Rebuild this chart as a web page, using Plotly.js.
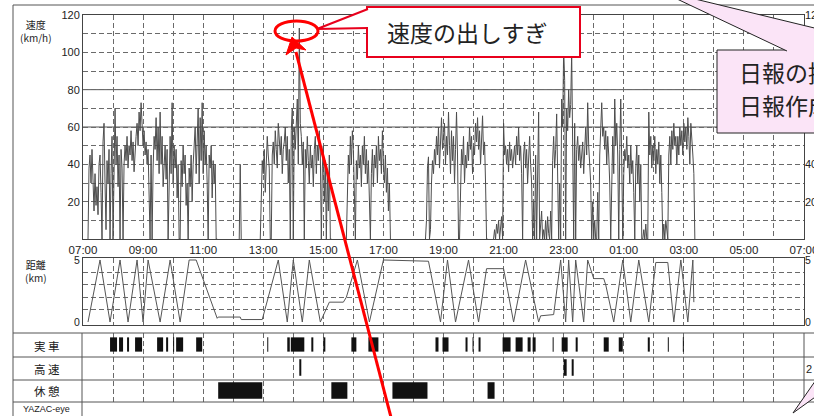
<!DOCTYPE html>
<html><head><meta charset="utf-8">
<script src="https://cdn.plot.ly/plotly-3.0.1.min.js"></script>
<style>html,body{margin:0;padding:0;background:#fff;}#chart{width:814px;height:416px;}</style>
</head><body><div id="chart"></div>
<script>
const W = 814, H = 416;

// ---- time axis (minutes after 07:00) ----
const hourLabels = ['07:00','09:00','11:00','13:00','15:00','17:00','19:00','21:00','23:00','01:00','03:00','05:00','07:00'];
const sampleStepMin = 2;

// ---- speed (km/h), sampled every 2 minutes, segment start minutes ----
const speedSegStart = [10, 312, 354, 526, 684, 820];
const speedSeg1 = [0,38,45,30,48,22,15,35,18,28,13,40,45,25,0,52,62,30,5,42,30,48,0,35,55,0,48,70,40,55,28,45,0,48,38,0,40,50,42,55,38,50,45,58,42,52,36,48,55,62,50,68,58,73,55,50,58,45,52,40,48,30,0,45,0,38,55,48,65,42,60,35,68,40,55,28,45,50,32,48,0,40,55,35,73,30,50,38,48,22,40,0,0,42,28,50,35,45,18,30,0,38,28,45,20,40,52,60,35,48,70,30,65,42,73,35,58,40,50,30,0,45,38,50,22,42,30,40,0,0];
const speedSeg2 = [0,40,0];
const speedSeg3 = [0,30,42,35,48,25,40,55,45,38,0,0,45,52,40,58,48,38,62,50,45,55,35,48,52,60,42,55,30,48,
  0,58,70,0,60,48,62,75,40,113,62,55,40,52,0,48,38,55,42,30,50,38,45,28,48,55,35,50,42,58,45,0,38,50,20,42,0,35,15,45,0,0];
const speedSeg4 = [0,30,45,35,55,40,58,48,30,0,42,32,50,38,45,28,50,40,55,35,48,30,42,22,0,35,48,28,45,38,50,30,55,42,48,35,58,40,30,45,25,38,15,30,0];
const speedSeg5 = [0,10,38,44,0,5,30,42,35,48,40,55,45,60,38,52,65,48,58,62,40,55,45,68,50,35,58,42,55,30,48,68,45,0,0,35,48,40,55,30,45,38,52,42,60,48,55,35,50,45,62,52,65,48,58,40,55,66,45,52,30,0,0];
const speedSeg6 = [0,5,0,8,3,10,0,6,12,0,
  62,45,50,40,48,36,52,42,48,38,45,50,40,55,45,60,42,50,35,0,45,52,38,48,30,42,55,40,30,0,
  20,0,45,0,30,68,0,8,15,0,5,0,10,0,12,3,0,15,0,42,55,38,48,67,40,0,30,0,
  75,60,102,85,0,70,58,80,65,72,100,60,0,62,0,48,55,42,50,38,45,52,35,48,60,45,73,50,40,30,0,20,0,10,0,0,25,0,45,62,
  73,55,60,48,58,40,55,45,30,0,40,55,35,75,50,62,45,0,48,75,40,0,35,48,42,55,38,45,30,50,35,42,25,
  0,38,50,30,45,20,40,0,0,5,0,8,0,0,68,45,55,38,50,42,55,35,48,40,52,30,45,25,0,8,0,10,3,0,
  45,55,40,58,48,62,50,55,40,55,45,60,50,58,45,62,52,60,48,65,55,40,62,50,45,35,0];
const speedThresholds = [60, 80];
const speedRightLabels = [20, 40, 120];   // the others are hidden behind the pink callout

// ---- distance (km) vertices ----
const distTime = [10,34,54,74,90,108,120,130,154,174,194,212,226,268,270,314,316,358,390,408,420,438,452,474,492,520,526,548,572,600,690,714,728,744,770,790,806,840,860,884,910,914,940,954,964,970,978,984,1000,1008,1020,1040,1044,1060,1078,1094,1110,1130,1144,1168,1180,1194,1208,1218,1220];
const distKm   = [0,5,0,5,0,5,0,5,0,5,0,5,5,0.3,0.4,0.4,0.2,0.2,5,0,5,0,5,0,1.6,1.6,2.0,5,0,5,4.9,0,5,0,5,0,4.3,4.3,0,5,0,0.5,0.6,5,0,5,0,5,0,5,3.5,3.5,3.0,0,5,0,5,0,4.8,4.8,0,5,0,5,1.6];

// ---- activity rows ----
const rowNames = ['実車','高速','休憩'];
const driveStart = [54,72,88,104,148,166,180,186,226,368,408,415,456,480,536,570,704,718,764,778,790,838,864,888,898,938,956,984,1040,1070,1128,1168,1198];
const driveEnd   = [68,80,92,118,160,170,182,200,238,370,413,442,460,484,546,590,710,730,768,780,794,854,878,894,904,940,968,988,1050,1078,1132,1170,1200];
const highwayStart = [432,960,976];
const highwayEnd   = [436,966,980];
const restStart = [270,496,618,808];
const restEnd   = [358,528,688,822];

// ---------------------------------------------------------------
const traces = [];
[speedSeg1,speedSeg2,speedSeg3,speedSeg4,speedSeg5,speedSeg6].forEach((vals,k)=>{
  traces.push({type:'scatter',mode:'lines',x:vals.map((_,i)=>speedSegStart[k]+i*sampleStepMin),y:vals,
    xaxis:'x',yaxis:'y',line:{color:'#4d4d4d',width:1},hoverinfo:'skip',showlegend:false});
});
traces.push({type:'scatter',mode:'lines',x:distTime,y:distKm,xaxis:'x2',yaxis:'y2',
  line:{color:'#555',width:1},hoverinfo:'skip',showlegend:false});
function barTrace(name, s, e, w){
  return {type:'bar',orientation:'h',y:s.map(()=>name),base:s,x:s.map((v,i)=>e[i]-v),width:w,
    xaxis:'x3',yaxis:'y3',marker:{color:'#111',line:{width:0}},hoverinfo:'skip',showlegend:false};
}
traces.push(barTrace(rowNames[0],driveStart,driveEnd,0.62));
traces.push(barTrace(rowNames[1],highwayStart,highwayEnd,0.72));
traces.push(barTrace(rowNames[2],restStart,restEnd,0.72));
// placeholders for overlay axes
[['x','y4'],['x2','y5'],['x2','y6']].forEach(p=>traces.push({type:'scatter',mode:'lines',x:[null],y:[null],xaxis:p[0],yaxis:p[1],hoverinfo:'skip',showlegend:false}));

const hourTicks = []; for(let m=0;m<=1440;m+=60) hourTicks.push(m);
const hourText = hourTicks.map((m,i)=> i%2===0 ? hourLabels[i/2] : '');
const gridDash = '5px,3px';
const gridColor = '#6a6a6a';
const numFont = {family:'Liberation Sans, Arial, sans-serif', size:11, color:'#222'};
const xDomain = [83/W, 804/W];
const baseX = {domain:xDomain, range:[0,1440], tickvals:hourTicks, ticktext:hourText, showgrid:true, gridcolor:gridColor,
  gridwidth:1, griddash:gridDash, showline:true, linecolor:'#444', linewidth:1, mirror:true, ticks:'', zeroline:false, fixedrange:true};

const speedTicks = []; for(let v=10; v<=120; v+=10) speedTicks.push(v);

const px = v => v/W, py = v => 1 - v/H;
function path(pts, close){ return pts.map((p,i)=>(i?'L':'M')+px(p[0]).toFixed(5)+','+py(p[1]).toFixed(5)).join(' ')+(close?' Z':''); }
function pline(x0,y0,x1,y1,color,w){ return {type:'line',xref:'paper',yref:'paper',x0:px(x0),y0:py(y0),x1:px(x1),y1:py(y1),line:{color:color,width:w}}; }

const shapes = [];
// frame & table lines
shapes.push(pline(13,5,814,5,'#555',1));
shapes.push(pline(13,5,13,416,'#555',1));
[333,357,380,402].forEach(y=>shapes.push(pline(13,y,814,y,'#555',1)));
shapes.push(pline(82,333,82,416,'#555',1));
shapes.push(pline(804,333,804,402,'#555',1));
// solid reference lines on the speed chart
speedThresholds.forEach(v=>shapes.push({type:'line',xref:'x',yref:'y',x0:0,x1:1440,y0:v,y1:v,line:{color:'#555',width:1},layer:'below'}));
// red callout
shapes.push({type:'rect',xref:'paper',yref:'paper',x0:px(367),x1:px(580),y0:py(57),y1:py(7),fillcolor:'#fff',line:{color:'#e8001c',width:2}});
shapes.push({type:'path',xref:'paper',yref:'paper',path:path([[368,9],[317,29],[368,28]],false),fillcolor:'#fff',line:{color:'#e8001c',width:2}});
shapes.push({type:'circle',xref:'paper',yref:'paper',x0:px(275),x1:px(318),y0:py(41),y1:py(21),line:{color:'#f00',width:3}});
shapes.push(pline(393,425,296,52,'#f00',3));
shapes.push({type:'path',xref:'paper',yref:'paper',path:path([[292,37],[306,50],[296,48],[286,55]],true),fillcolor:'#f00',line:{color:'#f00',width:1}});
// pink callout
shapes.push({type:'rect',xref:'paper',yref:'paper',x0:px(717),x1:px(840),y0:py(133),y1:py(50),fillcolor:'#fbe4f7',line:{color:'#222',width:1}});
shapes.push({type:'path',xref:'paper',yref:'paper',path:path([[787,51],[658,-10],[909,51]],false),fillcolor:'#fbe4f7',line:{color:'#222',width:1}});
shapes.push({type:'path',xref:'paper',yref:'paper',path:path([[818,377],[793,413],[818,395]],false),fillcolor:'#fbe4f7',line:{color:'#222',width:1}});

const annotations = [];
function txt(t,x,y,size,opt){ annotations.push(Object.assign({text:t,xref:'paper',yref:'paper',x:px(x),y:py(y),showarrow:false,
  xanchor:'center',yanchor:'middle',font:{family:'Noto Sans CJK JP, sans-serif',size:size,color:'#222'}},opt||{})); }
txt('速度<br>(km/h)',36,31,10);
txt('距離<br>(km)',36,271,10);
txt('実 車',47,346,11.5);
txt('高 速',47,369,11.5);
txt('休 憩',47,391,11.5);
txt('YAZAC-eye',46,409,9,{font:{family:'Liberation Sans, sans-serif',size:9,color:'#222'}});
txt('2',809,369,11,{font:numFont});
txt('速度の出しすぎ',467,32,23);
txt('日報の提出',737,72,23,{xanchor:'left'});
txt('日報作成',737,105,23,{xanchor:'left'});

const layout = {
  width:W, height:H, margin:{l:0,r:0,t:0,b:0,autoexpand:false}, paper_bgcolor:'#fff', plot_bgcolor:'rgba(0,0,0,0)',
  showlegend:false, barmode:'overlay',
  xaxis: Object.assign({}, baseX, {anchor:'y', ticklabeloverflow:'allow', tickfont:{family:'Liberation Sans, Arial, sans-serif', size:11.5, color:'#222'}}),
  xaxis2: Object.assign({}, baseX, {anchor:'y2', showticklabels:false}),
  xaxis3: Object.assign({}, baseX, {anchor:'y3', showticklabels:false, showline:false}),
  yaxis: {domain:[1-239/H, 1-15/H], anchor:'x', range:[0,120], tickvals:speedTicks, ticktext:speedTicks.map(v=>v%20===0?String(v):''),
    showgrid:true, gridcolor:gridColor, gridwidth:1, griddash:gridDash, showline:true, linecolor:'#444', mirror:true,
    ticks:'', zeroline:false, tickfont:numFont, fixedrange:true},
  yaxis4: {overlaying:'y', anchor:'x', side:'right', range:[0,120], tickvals:speedRightLabels, ticklabeloverflow:'allow',
    showgrid:false, showline:false, zeroline:false, ticks:'', tickfont:numFont, fixedrange:true},
  yaxis2: {domain:[1-325/H, 1-258/H], anchor:'x2', range:[-0.24,5.16], tickvals:[0,5], showgrid:false, showline:true,
    linecolor:'#444', mirror:true, ticks:'', zeroline:false, tickfont:{family:numFont.family,size:10.5,color:'#222'}, fixedrange:true},
  yaxis5: {overlaying:'y2', anchor:'x2', range:[-0.24,5.16], tickvals:[1,2,3,4], showticklabels:false, showgrid:true,
    gridcolor:gridColor, gridwidth:1, griddash:gridDash, showline:false, zeroline:false, ticks:'', fixedrange:true},
  yaxis6: {overlaying:'y2', anchor:'x2', side:'right', range:[-0.24,5.16], tickvals:[0,5], showgrid:false, showline:false,
    zeroline:false, ticks:'', tickfont:{family:numFont.family,size:10.5,color:'#222'}, fixedrange:true},
  yaxis3: {domain:[1-402/H, 1-333/H], anchor:'x3', type:'category', categoryorder:'array', categoryarray:['休憩','高速','実車'],
    range:[-0.5,2.5], showticklabels:false, showgrid:false, zeroline:false, showline:false, fixedrange:true},
  shapes: shapes, annotations: annotations
};
Plotly.newPlot('chart', traces, layout, {staticPlot:true, displayModeBar:false});
</script></body></html>
